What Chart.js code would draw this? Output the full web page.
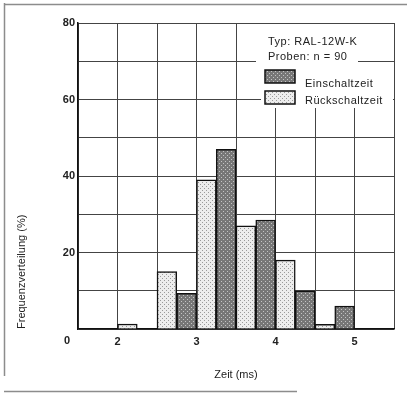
<!DOCTYPE html>
<html><head><meta charset="utf-8">
<script src="https://cdn.jsdelivr.net/npm/chart.js@4/dist/chart.umd.min.js"></script>
<style>html,body{margin:0;padding:0;background:#fff}</style>
</head><body>
<canvas id="c" width="411" height="393"></canvas>
<script>
// ---- data ----
const binWidth = 0.25;                          // ms per class
const einBins = [2.75, 3.25, 3.75, 4.25, 4.75]; // class start (ms)
const einValues = [9.3, 47, 28.5, 10, 6];       // %
const ruckBins = [2.0, 2.5, 3.0, 3.5, 4.0, 4.5];
const ruckValues = [1.3, 15, 39, 27, 18, 1.2];
const xTickLabels = [2, 3, 4, 5];
const yTickLabels = [20, 40, 60, 80];
const seriesNames = ['Einschaltzeit', 'Rückschaltzeit'];
const infoLines = ['Typ: RAL-12W-K', 'Proben: n = 90'];
const xTitle = 'Zeit (ms)';
const yTitle = 'Frequenzverteilung (%)';

const FONT = '"Liberation Sans", Arial, sans-serif';

function makePattern(base, dot, dots) {
  const c = document.createElement('canvas');
  c.width = 4; c.height = 4;
  const g = c.getContext('2d');
  g.fillStyle = base; g.fillRect(0, 0, 4, 4);
  g.fillStyle = dot;
  dots.forEach(([px, py]) => g.fillRect(px, py, 1, 1));
  return g.createPattern(c, 'repeat');
}
const ctx0 = document.getElementById('c').getContext('2d');
const patEin = makePattern('#777777', '#c4c4c4', [[1, 1], [3, 3]]);
const patRuck = makePattern('#ededed', '#9a9a9a', [[0, 0], [2, 2]]);
const patterns = [patEin, patRuck];

const overlay = {
  id: 'overlay',
  beforeDraw(chart) {
    const ctx = chart.ctx;
    ctx.save();
    ctx.strokeStyle = '#8c8c8c';
    ctx.lineWidth = 1.5;
    ctx.beginPath();
    ctx.moveTo(4.5, 3); ctx.lineTo(4.5, 376);
    ctx.moveTo(4, 4.5); ctx.lineTo(407, 4.5);
    ctx.moveTo(4, 391.5); ctx.lineTo(297, 391.5);
    ctx.stroke();
    ctx.restore();
  },
  afterDraw(chart) {
    const { ctx, chartArea: a, scales: { y } } = chart;
    ctx.save();
    // zero label of the value axis, printed on the time-label line
    ctx.font = 'bold 11px ' + FONT;
    ctx.fillStyle = '#222';
    ctx.textAlign = 'center';
    ctx.textBaseline = 'middle';
    ctx.fillText('0', y.right - 11, a.bottom + 12);

    // white info / legend block
    ctx.fillStyle = '#fff';
    ctx.fillRect(a.right - 138, a.top + 1, 137, 28);
    ctx.fillRect(a.right - 138, a.top + 29, 102, 16);
    ctx.fillRect(a.right - 133, a.top + 45, 132, 40);

    ctx.fillStyle = '#222';
    ctx.textAlign = 'left';
    ctx.font = '11px ' + FONT;
    try { ctx.letterSpacing = '0.5px'; } catch (e) {}
    ctx.fillText(infoLines[0], a.right - 126, a.top + 19);
    ctx.fillText(infoLines[1], a.right - 126, a.top + 34);

    const sw = [[a.top + 47, a.top + 61], [a.top + 68, a.top + 78]];
    chart.data.datasets.forEach((ds, i) => {
      const [sy, ty] = sw[i];
      ctx.fillStyle = patterns[i];
      ctx.fillRect(a.right - 129, sy, 30, 13);
      ctx.strokeStyle = '#111';
      ctx.lineWidth = 1.5;
      ctx.strokeRect(a.right - 129, sy, 30, 13);
      ctx.fillStyle = '#222';
      ctx.fillText(ds.label, a.right - 89, ty);
    });
    ctx.restore();
  }
};

const barOpts = {
  borderColor: '#111',
  borderWidth: 1.5,
  grouped: false,
  barPercentage: 1,
  categoryPercentage: 1
};

new Chart(ctx0, {
  type: 'bar',
  data: {
    datasets: [
      Object.assign({
        label: seriesNames[0],
        data: einBins.map((b, i) => ({ x: b + binWidth / 2, y: einValues[i] })),
        backgroundColor: patEin
      }, barOpts),
      Object.assign({
        label: seriesNames[1],
        data: ruckBins.map((b, i) => ({ x: b + binWidth / 2, y: ruckValues[i] })),
        backgroundColor: patRuck
      }, barOpts)
    ]
  },
  options: {
    responsive: false,
    animation: false,
    devicePixelRatio: 1,
    layout: { padding: { top: 23, right: 17, left: 0, bottom: 0 } },
    plugins: { legend: { display: false }, tooltip: { enabled: false } },
    scales: {
      x: {
        type: 'linear',
        min: 1.5, max: 5.5,
        offset: false,
        afterFit: s => { s.height = 64; },
        ticks: {
          stepSize: 0.5, autoSkip: false, maxRotation: 0, padding: 6,
          color: '#222', font: { family: FONT, size: 11, weight: 'bold' },
          callback: v => xTickLabels.includes(v) ? String(v) : ''
        },
        grid: { color: '#444', lineWidth: 1, drawTicks: false, offset: false },
        border: { color: '#111', width: 1.5 },
        title: {
          display: true, text: xTitle, color: '#222',
          font: { family: FONT, size: 11 },
          padding: { top: 0, bottom: 11 }
        }
      },
      y: {
        min: 0, max: 80,
        afterFit: s => { s.width = 78; },
        ticks: {
          stepSize: 10, padding: 3, autoSkip: false,
          color: '#222', font: { family: FONT, size: 11, weight: 'bold' },
          callback: v => yTickLabels.includes(v) ? String(v) : ''
        },
        grid: { color: '#444', lineWidth: 1, drawTicks: false },
        border: { color: '#111', width: 1.5 },
        title: {
          display: true, text: yTitle, align: 'start', color: '#222',
          font: { family: FONT, size: 11 },
          padding: { top: 15, bottom: 0 }
        }
      }
    }
  },
  plugins: [overlay]
});
</script>
</body></html>
